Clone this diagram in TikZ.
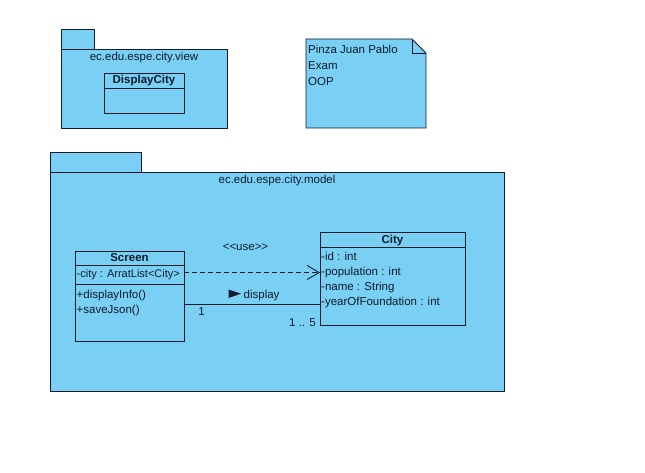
\documentclass[tikz,border=0pt]{standalone}
\usepackage{fontspec}
\setmainfont{Liberation Sans}
\usetikzlibrary{arrows.meta}
\definecolor{pkgfill}{RGB}{122,207,245}
\definecolor{ln}{RGB}{16,28,42}
\begin{document}
\begin{tikzpicture}[x=1pt,y=-1pt,
  every node/.style={font=\fontsize{11.5}{13}\selectfont, text=ln},
  box/.style={draw=ln, fill=pkgfill, line width=0.9pt},
  txt/.style={inner sep=0pt, text height=8pt, text depth=2pt},
  lbl/.style={txt, anchor=west},
  small/.style={font=\fontsize{11}{13}\selectfont},
  boldlbl/.style={txt, font=\fontsize{11.5}{13}\selectfont\bfseries},
  classbox/.style={draw=ln, fill=pkgfill, line width=0.9pt, inner sep=0pt, anchor=north west},
  sep/.style={draw=ln, line width=0.9pt},
  conn/.style={draw=ln, line width=0.9pt}]
\useasboundingbox (0,0) rectangle (645,473);
\fill[white] (0,0) rectangle (645,473);
% view package
\path[box] (61,29) rectangle (94,49);
\node[box, minimum width=166pt, minimum height=79pt, inner sep=0pt, anchor=north west] (viewpkg) at (61,49) {};
\node[txt] (viewlbl) at (144,58) {ec.edu.espe.city.view};
\node[classbox, minimum width=80pt, minimum height=40pt] (display) at (104,73) {};
\node[boldlbl] (displaytitle) at (144,81) {DisplayCity};
\draw[sep] (104,88) -- (184,88);
% note
\path[box] (306,39) -- (412,39) -- (426,53) -- (426,128) -- (306,128) -- cycle;
\draw[sep] (412,39) -- (412,53) -- (426,53);
\node[lbl] (n1) at (308,51) {Pinza Juan Pablo};
\node[lbl] (n2) at (308,66.5) {Exam};
\node[lbl] (n3) at (308,82.5) {OOP};
% model package
\path[box] (50,152) rectangle (141,172);
\node[box, minimum width=454pt, minimum height=219pt, inner sep=0pt, anchor=north west] (modelpkg) at (50,172) {};
\node[txt] (modellbl) at (277,181) {ec.edu.espe.city.model};
% Screen class
\node[classbox, minimum width=109pt, minimum height=90pt] (screen) at (75,251) {};
\node[boldlbl] (screentitle) at (129.5,258.5) {Screen};
\draw[sep] (75,265) -- (184,265);
\node[lbl, small] (sattr) at (76.5,274.5) {-city : ArratList<City>};
\draw[sep] (75,284) -- (184,284);
\node[lbl] (sop1) at (76.5,295.5) {+displayInfo()};
\node[lbl] (sop2) at (76.5,310) {+saveJson()};
% City class
\node[classbox, minimum width=145pt, minimum height=93pt] (city) at (320,232) {};
\node[boldlbl] (citytitle) at (392.5,240.5) {City};
\draw[sep] (320,247) -- (465,247);
\node[lbl] (c1) at (321,257.5) {-id : int};
\node[lbl] (c2) at (321,272.5) {-population : int};
\node[lbl] (c3) at (321,287.5) {-name : String};
\node[lbl] (c4) at (321,302.5) {-yearOfFoundation : int};
% dependency
\coordinate (dstart) at (184,272.5);
\draw[conn, dash pattern=on 5pt off 3pt, -{Straight Barb[length=12pt, width=14pt, line width=0.9pt]}] (dstart) -- (dstart -| city.west);
\node[txt] (use) at (245.5,248) {<{}<use>{}>};
% association
\coordinate (astart) at (184,304.5);
\draw[conn] (astart) -- (astart -| city.west);
\fill[ln] (228.5,289.5) -- (241,293.7) -- (228.5,298) -- cycle;
\node[lbl] (disp) at (243.5,295.5) {display};
\node[txt] (m1) at (201.5,312.5) {1};
\node[txt] (m2) at (302.5,323.5) {1 .. 5};
\end{tikzpicture}
\end{document}
